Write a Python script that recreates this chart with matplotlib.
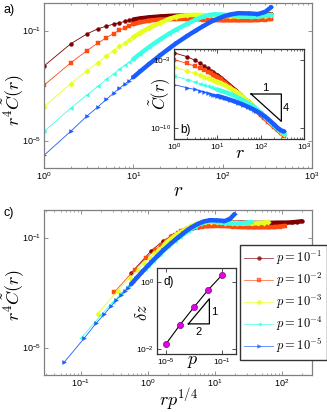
import numpy as np
import matplotlib
matplotlib.use('Agg')
import matplotlib.pyplot as plt
from matplotlib.ticker import LogLocator, NullLocator, NullFormatter

plt.rcParams['font.family'] = ['Liberation Sans', 'DejaVu Sans']
plt.rcParams['mathtext.fontset'] = 'cm'

# separation r at which every series is sampled
r = np.array([1, 2, 3, 4, 5, 6, 7, 8, 9, 10, 12, 15, 20, 25, 30, 40, 50, 60,
              70, 80, 100, 120, 150, 200, 250, 300, 350])

# log10 of r^4 C(r)
logy_p1 = [-2.29, -1.48, -1.13, -0.94, -0.84, -0.77, -0.72, -0.67, -0.63,
           -0.60, -0.56, -0.52, -0.49, -0.47, -0.46, -0.46, -0.46, -0.47,
           -0.47, -0.47, -0.47, -0.47, -0.46, -0.46, -0.45, -0.43, -0.41]
logy_p2 = [-2.99, -2.17, -1.74, -1.46, -1.26, -1.11, -0.99, -0.90, -0.83,
           -0.77, -0.70, -0.64, -0.60, -0.59, -0.58, -0.58, -0.59, -0.60,
           -0.61, -0.62, -0.63, -0.63, -0.63, -0.63, -0.62, -0.60, -0.58]
logy_p3 = [-3.77, -2.93, -2.47, -2.17, -1.93, -1.74, -1.58, -1.45, -1.34,
           -1.24, -1.08, -0.90, -0.72, -0.58, -0.50, -0.44, -0.43, -0.44,
           -0.45, -0.46, -0.47, -0.48, -0.49, -0.49, -0.48, -0.46, -0.44]
logy_p4 = [-4.67, -3.82, -3.35, -3.03, -2.78, -2.58, -2.41, -2.27, -2.15,
           -2.04, -1.84, -1.60, -1.32, -1.12, -0.97, -0.76, -0.60, -0.50,
           -0.44, -0.41, -0.42, -0.45, -0.48, -0.50, -0.49, -0.46, -0.43]
logy_p5 = [-5.54, -4.66, -4.12, -3.78, -3.50, -3.28, -3.10, -2.95, -2.82,
           -2.70, -2.48, -2.22, -1.90, -1.66, -1.47, -1.20, -1.00, -0.85,
           -0.72, -0.63, -0.50, -0.42, -0.37, -0.38, -0.40, -0.32, -0.15]

p_values = [1e-1, 1e-2, 1e-3, 1e-4, 1e-5]
labels = [r'$p=10^{-1}$', r'$p=10^{-2}$', r'$p=10^{-3}$', r'$p=10^{-4}$',
          r'$p=10^{-5}$']
colors = ['#800000', '#ff4a10', '#e6ff1e', '#3cffe6', '#1a5cff']
markers = ['o', 's', 'D', '<', '>']

# panel d: delta z against p
dz_p = [1e-5, 1e-4, 1e-3, 1e-2, 1e-1]
dz = [0.0141, 0.0525, 0.178, 0.575, 1.62]

W, H = 327, 412
fig = plt.figure(figsize=(W / 100, H / 100), dpi=100)


def box(l, t, w, h):
    return [l / W, 1 - (t + h) / H, w / W, h / H]


def style(ax, edge, size=6.5):
    ax.set_xscale('log')
    ax.set_yscale('log')
    for s in ax.spines.values():
        s.set_color(edge)
        s.set_linewidth(0.9)
    ax.tick_params(which='both', direction='in', top=True, right=True,
                   labelsize=size, pad=2, color=edge)
    ax.tick_params(which='major', length=3, width=0.6)
    ax.tick_params(which='minor', length=1.5, width=0.5)
    ax.yaxis.set_minor_locator(NullLocator())
    ax.xaxis.set_minor_locator(LogLocator(subs=np.arange(2, 10)))
    ax.xaxis.set_minor_formatter(NullFormatter())


def labels_at(ax, xl, yl, xpos, ypos, xsize, ysize):
    # xpos / ypos are the centres of the axis labels in figure pixels
    ax.set_xlabel(xl, fontsize=xsize, va='center')
    ax.set_ylabel(yl, fontsize=ysize, va='center')
    ax.xaxis.set_label_coords(xpos[0] / W, 1 - xpos[1] / H,
                              transform=fig.transFigure)
    ax.yaxis.set_label_coords(ypos[0] / W, 1 - ypos[1] / H,
                              transform=fig.transFigure)


def draw(ax, xs_fn, ys_fn):
    for i, ly in enumerate([logy_p1, logy_p2, logy_p3, logy_p4, logy_p5]):
        p = p_values[i]
        xs = xs_fn(r, p)
        ys = ys_fn(r, 10.0 ** np.array(ly))
        ax.plot(xs, ys, color=colors[i], lw=0.6, marker=markers[i], ms=2.8,
                mec=colors[i], mew=0.3, label=labels[i])
        tail = r >= 10
        ax.plot(xs[tail], ys[tail], color=colors[i], lw=3.2,
                solid_capstyle='round', solid_joinstyle='round')


# panel a
ax_a = fig.add_axes(box(44, 3, 268, 165))
style(ax_a, '#808080')
draw(ax_a, lambda rr, p: rr, lambda rr, y: y)
ax_a.set_xlim(1, 1000)
ax_a.set_ylim(1e-6, 1.0)
ax_a.set_yticks([1e-5, 1e-1])
ax_a.set_xticks([1, 10, 100, 1000])
labels_at(ax_a, r'$r$', r'$r^4\tilde{C}(r)$', (178, 192), (13, 100), 14, 13)
fig.text(3 / W, 1 - 10 / H, 'a)', fontsize=9, va='center')

# inset b
ax_b = fig.add_axes(box(174, 49, 130, 90))
style(ax_b, '#333333', 6)
draw(ax_b, lambda rr, p: rr, lambda rr, y: y / rr.astype(float) ** 4)
ax_b.set_xlim(1, 1000)
ax_b.set_ylim(10 ** -11.1, 10 ** -1.9)
ax_b.set_yticks([1e-10, 1e-3])
ax_b.set_xticks([1, 10, 100, 1000])
ax_b.plot([60, 300, 300, 60], [10 ** -6.5, 10 ** -6.5, 10 ** -6.5 * (60 / 300) ** 4,
                               10 ** -6.5], color='black', lw=0.9)
ax_b.text(130, 10 ** -5.9, '1', fontsize=8, ha='center', va='center')
ax_b.text(380, 10 ** -7.9, '4', fontsize=8, ha='center', va='center')
ax_b.text(0.05, 0.1, 'b)', transform=ax_b.transAxes, fontsize=8.5,
          va='center')
labels_at(ax_b, r'$r$', r'$\tilde{C}(r)$', (240, 154), (160, 94), 13, 12)

# panel c
ax_c = fig.add_axes(box(44, 210, 268, 165))
style(ax_c, '#808080')
draw(ax_c, lambda rr, p: rr * p ** 0.25, lambda rr, y: y)
ax_c.set_xlim(10 ** -1.55, 10 ** 2.45)
ax_c.set_ylim(1e-6, 1.0)
ax_c.set_yticks([1e-5, 1e-1])
ax_c.set_xticks([0.1, 1, 10, 100])
labels_at(ax_c, r'$rp^{1/4}$', r'$r^4\tilde{C}(r)$', (178, 400), (13, 295),
          13, 13)
fig.text(3 / W, 1 - 213 / H, 'c)', fontsize=9, va='center')

handles = ax_c.get_lines()[::2]
leg = fig.legend(handles, labels, loc='upper left',
                 bbox_to_anchor=(240 / W, 1 - 245 / H), fontsize=9,
                 handlelength=2.3, handletextpad=0.2, labelspacing=0.3,
                 borderpad=0.35, borderaxespad=0, fancybox=False,
                 framealpha=1, edgecolor='#333333')
leg.get_frame().set_linewidth(1.0)
for line in leg.get_lines():
    line.set_alpha(0.75)

# inset d
ax_d = fig.add_axes(box(157, 268, 79, 86))
style(ax_d, '#333333', 6)
ax_d.xaxis.set_minor_locator(NullLocator())
ax_d.plot(dz_p, dz, color='black', lw=0.8, marker='o', ms=4.5,
          mfc='#e600e6', mec='#600060', mew=0.4)
ax_d.set_xlim(10 ** -5.64, 1)
ax_d.set_ylim(10 ** -2.15, 10 ** 0.42)
ax_d.set_xticks([1e-5, 1e-1])
ax_d.set_yticks([1e-2, 1])
ax_d.plot([10 ** -3.4, 10 ** -1.9, 10 ** -1.9, 10 ** -3.4],
          [10 ** -1.25, 10 ** -1.25, 10 ** -0.5, 10 ** -1.25],
          color='black', lw=0.9)
ax_d.text(10 ** -1.55, 10 ** -0.88, '1', fontsize=8, ha='center', va='center')
ax_d.text(10 ** -2.65, 10 ** -1.5, '2', fontsize=8, ha='center', va='center')
ax_d.text(0.08, 0.84, 'd)', transform=ax_d.transAxes, fontsize=8.5,
          va='center')
labels_at(ax_d, r'$p$', r'$\delta z$', (193, 362), (142, 312), 13, 12)

fig.savefig('out.png', dpi=100)
